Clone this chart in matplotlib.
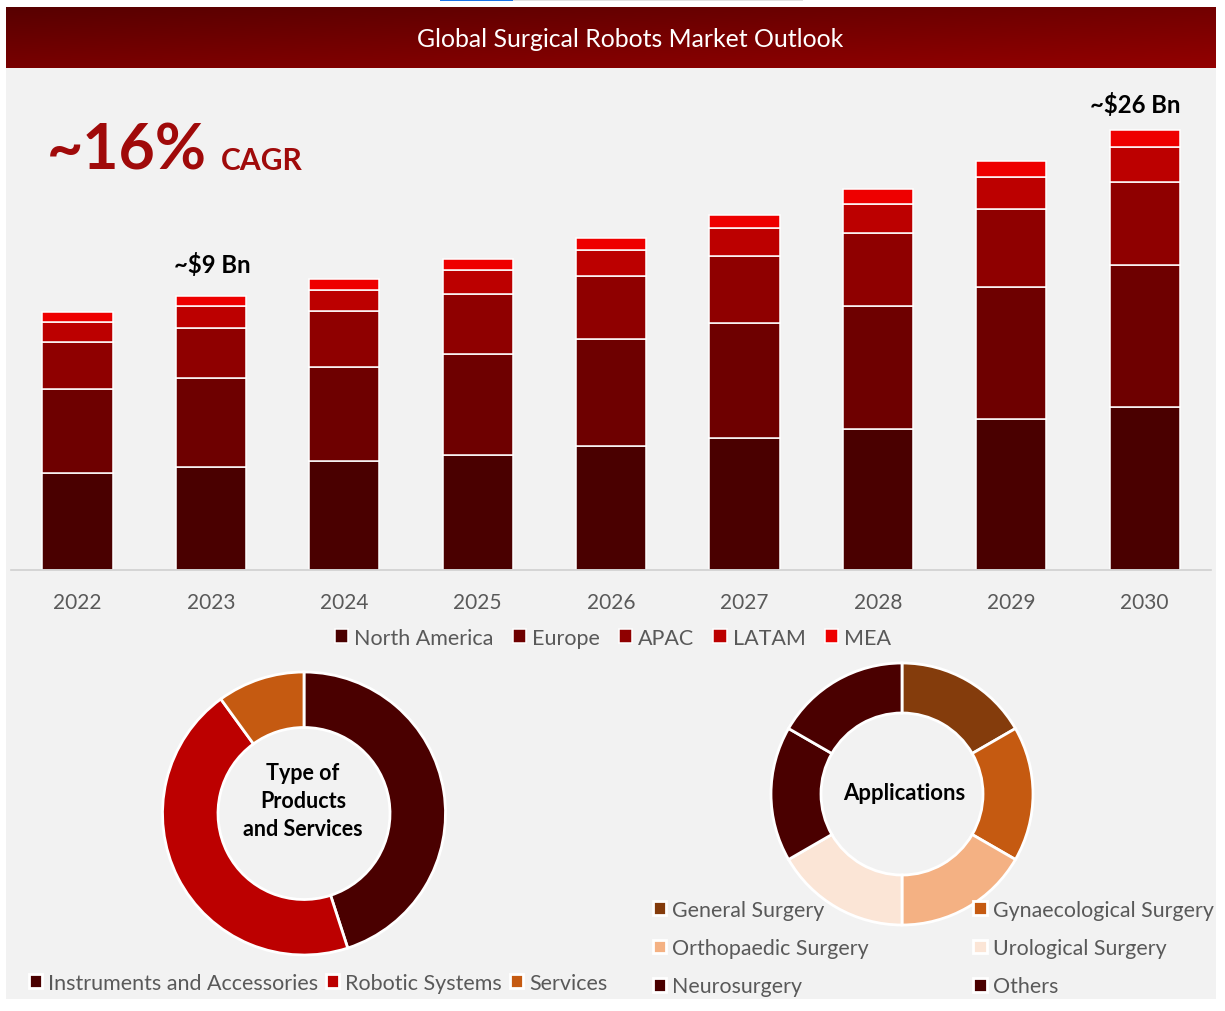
import matplotlib
matplotlib.use("Agg")
import matplotlib.pyplot as plt
import numpy as np
from matplotlib.patches import Rectangle

W, H = 1225, 1012
plt.rcParams['font.family'] = ['Lato', 'DejaVu Sans']

years = ['2022', '2023', '2024', '2025', '2026', '2027', '2028', '2029', '2030']
north_america = [97, 103, 109, 115, 124, 132, 141, 151, 163]
europe = [84, 89, 94, 101, 107, 115, 122, 131, 141]
apac = [47, 50, 55, 59, 62, 66, 73, 78, 83]
latam = [20, 21, 21, 24, 26, 28, 29, 32, 35]
mea = [9, 10, 11, 11, 12, 13, 15, 16, 17]
region_names = ['North America', 'Europe', 'APAC', 'LATAM', 'MEA']
region_colors = ['#4A0000', '#6E0000', '#8F0000', '#BC0000', '#EE0000']

product_names = ['Instruments and Accessories', 'Robotic Systems', 'Services']
product_values = [45, 45, 10]
product_colors = ['#4A0000', '#BC0000', '#C55A11']

app_names = ['General Surgery', 'Gynaecological Surgery', 'Orthopaedic Surgery',
             'Urological Surgery', 'Neurosurgery', 'Others']
app_values = [1, 1, 1, 1, 1, 1]
app_colors = ['#843C0C', '#C55A11', '#F4B183', '#FBE5D6', '#4A0000', '#4A0000']

GRAY = '#595959'


def rect(x0, y0, x1, y1):
    """pixel box (top-left origin) to figure fraction rectangle"""
    return [x0 / W, 1 - y1 / H, (x1 - x0) / W, (y1 - y0) / H]


fig = plt.figure(figsize=(W / 100, H / 100), dpi=100, facecolor='white')

# panel background and browser strip
fig.patches.append(Rectangle((6 / W, 1 - 1000 / H), 1210 / W, 992 / H, transform=fig.transFigure,
                             facecolor='#F2F2F2', edgecolor='none', zorder=-5))
fig.patches.append(Rectangle((440 / W, 1 - 2 / H), 73 / W, 2 / H, transform=fig.transFigure,
                             facecolor='#1A73E8', edgecolor='none', zorder=-5))
fig.patches.append(Rectangle((513 / W, 1 - 2 / H), 290 / W, 2 / H, transform=fig.transFigure,
                             facecolor='#E0E0E0', edgecolor='none', zorder=-5))

# title band with gradient
ax_t = fig.add_axes(rect(6, 8, 1216, 69))
ax_t.set_axis_off()
gx, gy = np.meshgrid(np.linspace(0, 1, 300), np.linspace(0, 1, 40))
grad = 0.45 * gx + 0.55 * gy
c0, c1 = np.array([0x58, 0, 0]) / 255, np.array([0x93, 0, 0]) / 255
ax_t.imshow(c0 + (c1 - c0) * grad[..., None], aspect='auto', extent=(0, 1, 0, 1))
ax_t.text((630 - 6) / 1210, 0.485, 'Global Surgical Robots Market Outlook', color='white', fontsize=17.9,
          ha='center', va='center', transform=ax_t.transAxes)

# stacked bars
ax = fig.add_axes(rect(10.8, 70, 1211.4, 571))
ax.set_facecolor('none')
x = np.arange(len(years))
bottom = np.zeros(len(years))
series = [north_america, europe, apac, latam, mea]
for vals, name, col in zip(series, region_names, region_colors):
    ax.bar(x, vals, 0.525, bottom=bottom, color=col, label=name, edgecolor='white', linewidth=1.1)
    bottom += np.array(vals)
ax.set_xlim(-0.5, 8.5)
ax.set_ylim(0, 500)
ax.set_yticks([])
ax.set_xticks(x, years)
ax.tick_params(axis='x', length=0, pad=16, labelsize=15, labelcolor=GRAY)
for s in ['top', 'left', 'right']:
    ax.spines[s].set_visible(False)
ax.spines['bottom'].set_color('#D0D0D0')
ax.spines['bottom'].set_linewidth(1.2)
ax.annotate('~$9 Bn', (1, bottom[1]), xytext=(1.5, 20), textcoords='offset pixels', ha='center', va='bottom',
            fontsize=17.2, fontweight='bold', color='black')
ax.annotate('~$26 Bn', (8, bottom[8]), xytext=(-9, 14), textcoords='offset pixels', ha='center', va='bottom',
            fontsize=17.2, fontweight='bold', color='black')
fig.legend(*ax.get_legend_handles_labels(), loc='center', bbox_to_anchor=(613 / W, 1 - 639 / H), ncols=5,
           frameon=False, fontsize=15.5, labelcolor=GRAY, handlelength=0.62, handleheight=0.62,
           handletextpad=0.28, columnspacing=0.88, borderpad=0)

# CAGR callout
fig.text(47 / W, 1 - 170 / H, '~16%', color='#A00A0A', fontsize=45, fontweight='bold', ha='left', va='baseline')
fig.text(221 / W, 1 - 170 / H, 'CAGR', color='#A00A0A', fontsize=21.6, fontweight='bold', ha='left', va='baseline')


def donut(cx, cy, r, inner, vals, cols, names):
    a = fig.add_axes(rect(cx - r - 3, cy - r - 3, cx + r + 3, cy + r + 3))
    wedges, _ = a.pie(vals, colors=cols, startangle=90, counterclock=False, radius=r / (r + 3),
                      wedgeprops=dict(width=(r - inner) / (r + 3), edgecolor='white', linewidth=2))
    for w, n in zip(wedges, names):
        w.set_label(n)
    a.set_xlim(-1, 1)
    a.set_ylim(-1, 1)
    return a, wedges


a1, w1 = donut(304, 814.5, 141.5, 86, product_values, product_colors, product_names)
a1.annotate('Type of\nProducts\nand Services', (0, 0), xytext=(-1, 13), textcoords='offset pixels',
            ha='center', va='center', fontsize=15.5, fontweight='bold', color='black', linespacing=1.4)
fig.legend(w1, product_names, loc='center', bbox_to_anchor=(318 / W, 1 - 984 / H), ncols=3, frameon=False,
           fontsize=15.5, labelcolor=GRAY, handlelength=0.62, handleheight=0.62, handletextpad=0.28,
           columnspacing=0.35, borderpad=0)

a2, w2 = donut(902, 795, 131, 81, app_values, app_colors, app_names)
a2.annotate('Applications', (0, 0), xytext=(2.5, 1), textcoords='offset pixels', ha='center', va='center',
            fontsize=15.9, fontweight='bold', color='black')
order = [0, 2, 4, 1, 3, 5]
fig.legend([w2[i] for i in order], [app_names[i] for i in order], loc='center',
           bbox_to_anchor=(933 / W, 1 - 949 / H), ncols=2, frameon=False, fontsize=15.4, labelcolor=GRAY,
           handlelength=0.62, handleheight=0.62, handletextpad=0.28, columnspacing=4.9, labelspacing=0.86,
           borderpad=0)

fig.savefig('out.png', dpi=100, facecolor='white')
